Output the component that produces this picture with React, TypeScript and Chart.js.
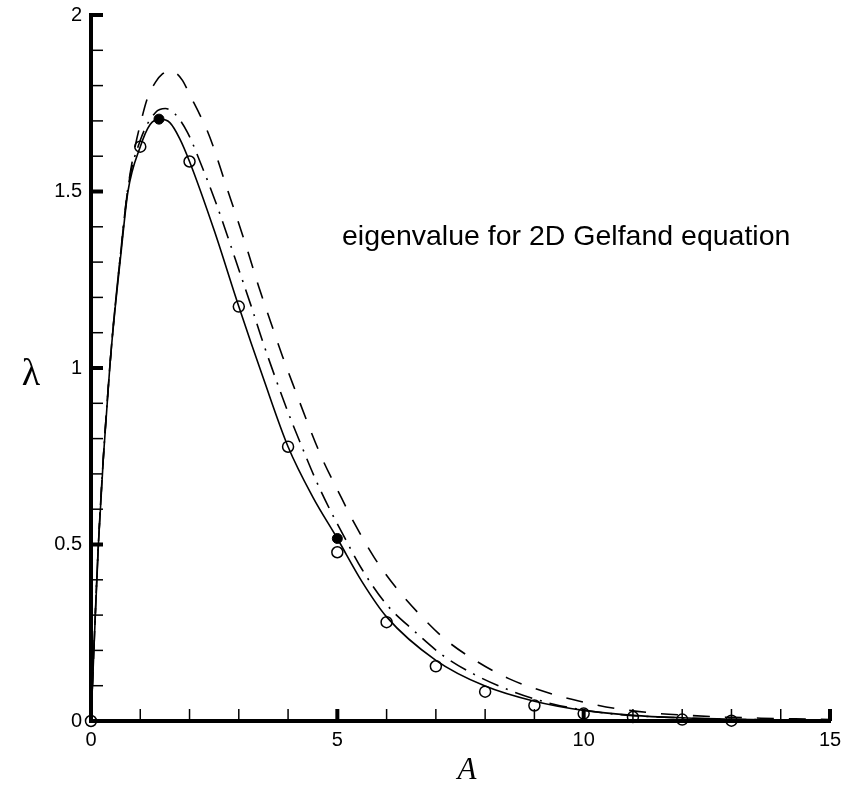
import React, { useEffect, useRef } from 'react';
import { Chart, registerables } from 'chart.js';
Chart.register(...registerables);

// Solid curve
const solidX = [0, 0.05, 0.15, 0.38, 0.62, 0.75, 1.0, 1.2, 1.4, 1.6, 1.8, 2.0, 2.5, 3.0, 3.5, 4.0, 4.5, 5.0, 5.5, 6.0, 7, 8, 9, 10, 11, 12, 13, 14, 15];
const solidY = [0, 0.17, 0.5, 1.0, 1.34, 1.5, 1.627, 1.69, 1.705, 1.695, 1.65, 1.585, 1.39, 1.174, 0.97, 0.777, 0.635, 0.517, 0.395, 0.295, 0.172, 0.099, 0.056, 0.030, 0.016, 0.009, 0.005, 0.003, 0.0015];

// Dash-dot curve
const dashDotX = [0, 0.15, 0.38, 0.62, 0.75, 1.0, 1.31, 1.51, 1.71, 1.96, 2.26, 2.52, 2.77, 3.01, 3.25, 3.48, 3.73, 3.99, 4.26, 4.55, 4.87, 5.04, 5.5, 6.0, 6.56, 7.14, 7.78, 8.46, 9.24, 9.99, 10.93, 12, 13, 14, 15];
const dashDotY = [0, 0.5, 1.0, 1.35, 1.51, 1.645, 1.724, 1.735, 1.719, 1.667, 1.568, 1.474, 1.374, 1.275, 1.176, 1.077, 0.977, 0.878, 0.784, 0.687, 0.593, 0.548, 0.43, 0.33, 0.255, 0.186, 0.132, 0.089, 0.053, 0.031, 0.016, 0.009, 0.005, 0.003, 0.002];

// Dashed curve
const dashedX = [0, 0.15, 0.38, 0.62, 0.75, 0.9, 1.0, 1.14, 1.31, 1.45, 1.6, 1.75, 1.86, 2.03, 2.2, 2.36, 2.5, 2.72, 2.96, 3.19, 3.41, 3.65, 3.89, 4.15, 4.42, 4.70, 5.03, 5.37, 5.75, 6.19, 6.67, 7.21, 7.82, 8.48, 9.23, 9.92, 10.63, 11.38, 12.12, 12.87, 13.6, 14.3, 15];
const dashedY = [0, 0.5, 1.0, 1.35, 1.51, 1.63, 1.69, 1.762, 1.81, 1.833, 1.843, 1.833, 1.814, 1.767, 1.72, 1.672, 1.62, 1.526, 1.426, 1.327, 1.228, 1.129, 1.032, 0.935, 0.836, 0.741, 0.647, 0.554, 0.463, 0.378, 0.302, 0.229, 0.170, 0.120, 0.082, 0.056, 0.036, 0.023, 0.016, 0.011, 0.008, 0.006, 0.004];

// Open circle markers
const openX = [0, 1, 2, 3, 4, 5, 6, 7, 8, 9, 10, 11, 12, 13];
const openY = [0, 1.627, 1.585, 1.174, 0.777, 0.478, 0.280, 0.155, 0.083, 0.044, 0.021, 0.011, 0.004, 0.001];

// Filled circle markers
const filledX = [1.38, 5.0];
const filledY = [1.705, 0.517];

const xMajor = [0, 5, 10, 15];
const yMajor = [0, 0.5, 1, 1.5, 2];
const annotation = 'eigenvalue for 2D Gelfand equation';
const xTitle = 'A';
const yTitle = 'λ';

const pts = (xs: number[], ys: number[]) => xs.map((x, i) => ({ x, y: ys[i] }));
const isMajor = (v: number, list: number[]) => list.some((m) => Math.abs(m - v) < 1e-6);

const decorPlugin = {
  id: 'decor',
  afterDraw(chart: any) {
    const ctx = chart.ctx;
    const xs = chart.scales.x;
    const ys = chart.scales.y;
    const ca = chart.chartArea;
    ctx.save();
    ctx.strokeStyle = '#000';
    ctx.lineCap = 'butt';
    xs.ticks.forEach((t: any) => {
      const px = xs.getPixelForValue(t.value);
      const major = isMajor(t.value, xMajor);
      ctx.lineWidth = major ? 4 : 1.5;
      ctx.beginPath();
      ctx.moveTo(px, ca.bottom);
      ctx.lineTo(px, ca.bottom - 12);
      ctx.stroke();
    });
    ys.ticks.forEach((t: any) => {
      const py = ys.getPixelForValue(t.value);
      const major = isMajor(t.value, yMajor);
      ctx.lineWidth = major ? 4 : 1.5;
      ctx.beginPath();
      ctx.moveTo(ca.left, py);
      ctx.lineTo(ca.left + 12, py);
      ctx.stroke();
    });
    ctx.fillStyle = '#000';
    ctx.textBaseline = 'alphabetic';
    ctx.textAlign = 'left';
    ctx.font = '28.5px "Liberation Sans", Arial, sans-serif';
    ctx.fillText(annotation, 342, 245);
    ctx.textAlign = 'center';
    ctx.font = 'italic 31px "Liberation Serif", "Times New Roman", serif';
    ctx.fillText(xTitle, 467, 779);
    ctx.font = '38px "Liberation Serif", "Times New Roman", serif';
    ctx.fillText(yTitle, 31, 385);
    ctx.restore();
  },
};

export default function App() {
  const ref = useRef<HTMLCanvasElement>(null);
  useEffect(() => {
    if (!ref.current) return;
    const lineBase = {
      showLine: true,
      pointRadius: 0,
      borderColor: '#000',
      borderWidth: 1.6,
      fill: false,
      cubicInterpolationMode: 'monotone' as const,
    };
    const chart = new Chart(ref.current, {
      type: 'scatter',
      data: {
        datasets: [
          { ...lineBase, label: 'solid', data: pts(solidX, solidY) },
          { ...lineBase, label: 'dashdot', data: pts(dashDotX, dashDotY), borderDash: [18, 8, 2, 8] },
          { ...lineBase, label: 'dashed', data: pts(dashedX, dashedY), borderDash: [17, 15] },
          {
            label: 'open',
            data: pts(openX, openY),
            showLine: false,
            pointRadius: 5.5,
            pointBorderWidth: 1.5,
            pointBorderColor: '#000',
            pointBackgroundColor: 'rgba(0,0,0,0)',
            clip: false,
          },
          {
            label: 'filled',
            data: pts(filledX, filledY),
            showLine: false,
            pointRadius: 5,
            pointBorderWidth: 1,
            pointBorderColor: '#000',
            pointBackgroundColor: '#000',
            clip: false,
          },
        ],
      },
      options: {
        animation: false,
        responsive: false,
        events: [],
        layout: { padding: { top: 15, right: 13, left: 0, bottom: 0 } },
        plugins: { legend: { display: false }, tooltip: { enabled: false } },
        scales: {
          x: {
            type: 'linear',
            min: 0,
            max: 15,
            grid: { display: true, drawOnChartArea: false, drawTicks: false },
            border: { display: true, width: 4, color: '#000' },
            ticks: {
              stepSize: 1,
              autoSkip: false,
              maxRotation: 0,
              padding: 7,
              color: '#000',
              font: { family: '"Liberation Sans", Arial, sans-serif', size: 20 },
              callback: (v: any) => (isMajor(Number(v), xMajor) ? String(Number(v)) : ''),
            },
            afterFit: (s: any) => { s.height = 64; s.paddingLeft = 0; s.paddingRight = 0; },
          },
          y: {
            type: 'linear',
            min: 0,
            max: 2,
            grid: { display: true, drawOnChartArea: false, drawTicks: false },
            border: { display: true, width: 4, color: '#000' },
            ticks: {
              stepSize: 0.1,
              autoSkip: false,
              padding: 9,
              color: '#000',
              font: { family: '"Liberation Sans", Arial, sans-serif', size: 20 },
              callback: (v: any) => {
                const n = Number(v);
                return isMajor(n, yMajor) ? String(Math.round(n * 2) / 2) : '';
              },
            },
            afterFit: (s: any) => { s.width = 91; s.paddingTop = 0; s.paddingBottom = 0; },
          },
        },
      },
      plugins: [decorPlugin],
    });
    return () => chart.destroy();
  }, []);
  return (
    <div style={{ position: 'absolute', left: 0, top: 0, width: 843, height: 785, background: '#fff' }}>
      <canvas ref={ref} width={843} height={785} style={{ display: 'block' }} />
    </div>
  );
}
